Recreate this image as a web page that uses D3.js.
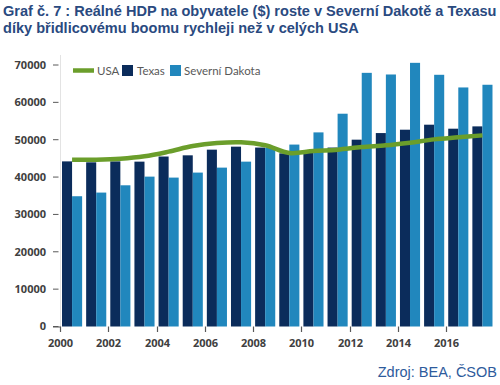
<!DOCTYPE html>
<html>
<head>
<meta charset="utf-8">
<script src="https://cdn.jsdelivr.net/npm/d3@7"></script>
<style>
  body { margin: 0; background: #fff; }
  svg { display: block; }
</style>
</head>
<body>
<div id="chart"></div>
<script>
// data
const years = [2000, 2001, 2002, 2003, 2004, 2005, 2006, 2007, 2008,
  2009, 2010, 2011, 2012, 2013, 2014, 2015, 2016, 2017];
const texas = [44200, 43950, 44200, 44130, 45500, 45820, 47340, 48140, 47900,
  46350, 46700, 47900, 50010, 51780, 52680, 54020, 52950, 53570];
const dakota = [34870, 35850, 37800, 40120, 39860, 41200, 42530, 44130, 47800,
  48700, 51960, 56960, 67900, 67460, 70580, 67380, 63990, 64710];
const usa = [44670, 44670, 44900, 45550, 46800, 48300, 49100, 49300, 48500,
  46450, 46970, 47340, 48040, 48490, 49210, 50090, 50630, 51160];
const yTicks = [0, 10000, 20000, 30000, 40000, 50000, 60000, 70000];
const xTickYears = [2000, 2002, 2004, 2006, 2008, 2010, 2012, 2014, 2016];

const titleLines = [
  "Graf č. 7 : Reálné HDP na obyvatele ($) roste v Severní Dakotě a Texasu",
  "díky břidlicovému boomu rychleji než v celých USA",
];
const sourceText = "Zdroj: BEA, ČSOB";

const colTexas = "#0b2c5b";
const colDakota = "#2187bd";
const colUsa = "#6b9e2b";

const W = 500, H = 385;
const svg = d3.select("#chart").append("svg")
  .attr("width", W).attr("height", H);

// ── title ──
const title = svg.append("g")
  .style("font-family", "'Liberation Sans', Arial, sans-serif")
  .style("font-weight", "bold")
  .style("font-size", "14px")
  .attr("fill", "#2a4a7f");
titleLines.forEach((t, i) => {
  title.append("text").attr("x", 3).attr("y", 16 + i * 16.5).text(t);
});
// fit first line to width like in the reference
const l1 = title.select("text").node().getComputedTextLength();
title.style("font-size", (14 * 494 / l1).toFixed(2) + "px");

// ── scales ──
const x = d3.scaleBand().domain(years).range([60, 494.5]).padding(0);
const inner = d3.scaleBand().domain(["tx", "sd"]).range([0, x.bandwidth()])
  .paddingInner(0).paddingOuter(0.2);
const y = d3.scaleLinear().domain([0, 70000]).range([326.5, 65]);

// faint y axis line
svg.append("line")
  .attr("x1", 60.5).attr("x2", 60.5)
  .attr("y1", 55).attr("y2", y(0))
  .attr("stroke", "#e3e3e3");

// y ticks and labels
const yAxis = svg.append("g").style("font-family", "'Open Sans', sans-serif")
  .style("font-weight", "bold").style("font-size", "11px");
yTicks.forEach((v) => {
  yAxis.append("line")
    .attr("x1", 53).attr("x2", 58.5)
    .attr("y1", y(v)).attr("y2", y(v))
    .attr("stroke", "#595959").attr("stroke-width", 1);
  yAxis.append("text")
    .attr("x", 46).attr("y", y(v)).attr("dy", "0.35em")
    .attr("text-anchor", "end").attr("fill", "#404040")
    .text(v);
});

// ── bars ──
const groups = svg.append("g").selectAll("g")
  .data(years)
  .join("g")
  .attr("transform", (d) => `translate(${x(d)},0)`);

groups.append("rect")
  .attr("x", inner("tx"))
  .attr("width", inner.bandwidth())
  .attr("y", (d, i) => y(texas[i]))
  .attr("height", (d, i) => y(0) - y(texas[i]))
  .attr("fill", colTexas);

groups.append("rect")
  .attr("x", inner("sd"))
  .attr("width", inner.bandwidth())
  .attr("y", (d, i) => y(dakota[i]))
  .attr("height", (d, i) => y(0) - y(dakota[i]))
  .attr("fill", colDakota);

// ── USA line ──
const line = d3.line()
  .x((d, i) => x(years[i]) + x.bandwidth() / 2)
  .y((d) => y(d))
  .curve(d3.curveCatmullRom);

svg.append("path")
  .datum(usa)
  .attr("d", line)
  .attr("fill", "none")
  .attr("stroke", colUsa)
  .attr("stroke-width", 4.5)
  .attr("stroke-linecap", "butt");

// ── x ticks ──
const xAxis = svg.append("g").style("font-family", "'Open Sans', sans-serif")
  .style("font-weight", "bold").style("font-size", "11px");
xAxis.append("line")
  .attr("x1", 53).attr("x2", 60.5)
  .attr("y1", y(0) + 0.5).attr("y2", y(0) + 0.5)
  .attr("stroke", "#595959");
xTickYears.forEach((yr) => {
  const px = Math.round(x(yr)) + 0.5;
  xAxis.append("line")
    .attr("x1", px).attr("x2", px)
    .attr("y1", y(0)).attr("y2", y(0) + 5.5)
    .attr("stroke", "#595959").attr("stroke-width", 1.2);
  xAxis.append("text")
    .attr("x", px).attr("y", 347)
    .attr("text-anchor", "middle").attr("fill", "#404040")
    .text(yr);
});

// ── legend ──
const legend = svg.append("g")
  .style("font-family", "Lato, sans-serif")
  .style("font-size", "11.5px")
  .attr("fill", "#595959");
legend.append("line")
  .attr("x1", 73).attr("x2", 94).attr("y1", 70.5).attr("y2", 70.5)
  .attr("stroke", colUsa).attr("stroke-width", 4.5);
legend.append("text").attr("x", 97).attr("y", 74.5).text("USA");
legend.append("rect").attr("x", 122).attr("y", 65).attr("width", 11).attr("height", 11)
  .attr("fill", colTexas);
legend.append("text").attr("x", 137).attr("y", 74.5).text("Texas");
legend.append("rect").attr("x", 170).attr("y", 65).attr("width", 11).attr("height", 11)
  .attr("fill", colDakota);
legend.append("text").attr("x", 184).attr("y", 74.5).text("Severní Dakota");

// ── source ──
svg.append("text")
  .attr("x", 497).attr("y", 377)
  .attr("text-anchor", "end")
  .style("font-family", "'Liberation Sans', Arial, sans-serif")
  .style("font-size", "14.5px")
  .attr("fill", "#2e5b9c")
  .text(sourceText);
</script>
</body>
</html>
